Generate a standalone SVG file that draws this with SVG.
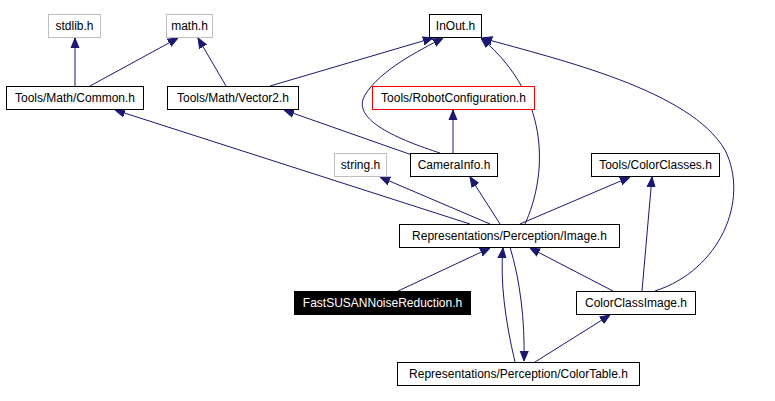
<svg xmlns="http://www.w3.org/2000/svg" width="775" height="401" viewBox="0 0 775 401">
<style>
rect{fill:#fff;stroke:#000;stroke-width:1}
.g{stroke:#bfbfbf}.r{stroke:#f00}
text{font-family:"Liberation Sans",Arial,sans-serif;font-size:12px;text-anchor:middle}
path{fill:none;stroke:#191970;stroke-width:1;marker-end:url(#a)}
</style>
<defs><marker id="a" viewBox="0 0 10 10" refX="10" refY="5" markerWidth="10" markerHeight="10" markerUnits="userSpaceOnUse" orient="auto"><path d="M0,1 L10,5 L0,9 Z" style="fill:#191970;stroke:#191970;marker-end:none"/></marker></defs>
<rect width="775" height="401" style="stroke:none"/>
<g id="edges">
<path d="M75,86 L75,38"/>
<path d="M90,86 L178,38"/>
<path d="M226,86 L198,38"/>
<path d="M270,86 L433,38"/>
<path d="M440,153 C400,140 350,120 365,95 C380,70 420,50 443,38"/>
<path d="M453,153 L453,110"/>
<path d="M412,155 L284,110"/>
<path d="M470,224 L115,110"/>
<path d="M490,224 L380,177"/>
<path d="M500,224 L470,177"/>
<path d="M520,224 L630,177"/>
<path d="M525,224 C545,180 555,100 481,38"/>
<path d="M398,291 L490,248"/>
<path d="M613,291 L530,248"/>
<path d="M642,291 L652,177"/>
<path d="M655,291 C720,270 750,200 725,150 C690,90 560,60 482,38"/>
<path d="M515,362 C505,320 500,280 503,248"/>
<path d="M510,247 C520,280 525,320 524,361"/>
<path d="M535,362 L610,315"/>
</g>
<g id="stdlib"><rect class="g" x="48.5" y="14.5" width="52" height="23"/><text x="74.5" y="30">stdlib.h</text></g>
<g id="math"><rect class="g" x="166.5" y="14.5" width="46" height="23"/><text x="189.5" y="30">math.h</text></g>
<g id="inout"><rect x="429.5" y="14.5" width="52" height="23"/><text x="455.5" y="30">InOut.h</text></g>
<g id="common"><rect x="6.5" y="86.5" width="137" height="23"/><text x="75" y="102">Tools/Math/Common.h</text></g>
<g id="vector2"><rect x="167.5" y="86.5" width="131" height="23"/><text x="233" y="102">Tools/Math/Vector2.h</text></g>
<g id="robotconf"><rect class="r" x="372.5" y="86.5" width="162" height="23"/><text x="453.5" y="102">Tools/RobotConfiguration.h</text></g>
<g id="string"><rect class="g" x="334.5" y="153.5" width="52" height="23"/><text x="360.5" y="169">string.h</text></g>
<g id="camerainfo"><rect x="410.5" y="153.5" width="87" height="23"/><text x="454" y="169">CameraInfo.h</text></g>
<g id="colorclasses"><rect x="591.5" y="153.5" width="128" height="23"/><text x="655.5" y="169">Tools/ColorClasses.h</text></g>
<g id="image"><rect x="399.5" y="224.5" width="220" height="23"/><text x="509.5" y="240">Representations/Perception/Image.h</text></g>
<g id="fastsusan"><rect x="294.5" y="291.5" width="176" height="23" style="fill:#000"/><text x="382.5" y="307" fill="#fff">FastSUSANNoiseReduction.h</text></g>
<g id="colorclassimage"><rect x="576.5" y="291.5" width="119" height="23"/><text x="636" y="307">ColorClassImage.h</text></g>
<g id="colortable"><rect x="397.5" y="362.5" width="242" height="23"/><text x="518.5" y="378">Representations/Perception/ColorTable.h</text></g>
</svg>
